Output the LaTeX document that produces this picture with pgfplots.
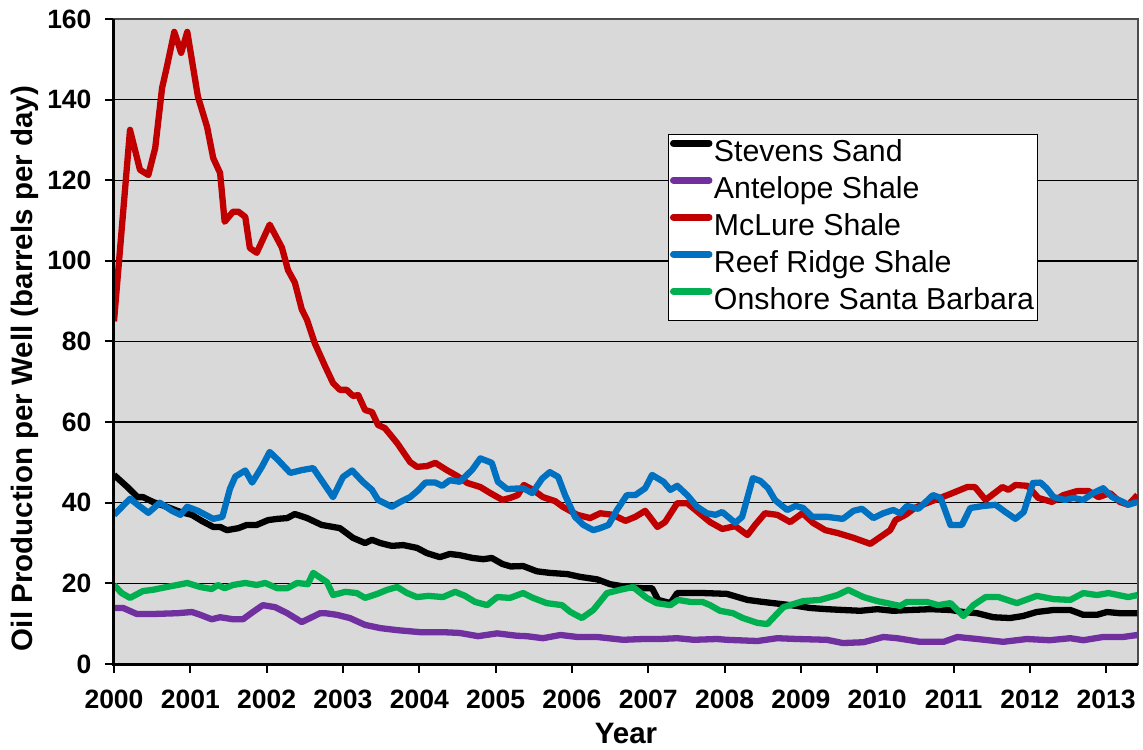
\documentclass[border=0pt]{standalone}
\usepackage{fontspec}
\setmainfont{Liberation Sans}
\usepackage{pgfplots}
\pgfplotsset{compat=1.18}
\definecolor{cPurple}{RGB}{112,48,160}
\definecolor{cRed}{RGB}{192,0,0}
\definecolor{cBlue}{RGB}{0,112,192}
\definecolor{cGreen}{RGB}{0,176,80}
\definecolor{bgc}{RGB}{217,217,217}
\begin{document}
\begin{tikzpicture}
\begin{axis}[
  width=1024pt, height=645pt, scale only axis,
  xmin=2000, xmax=2013.417, ymin=0, ymax=160,
  xtick={2000,2001,...,2013}, ytick={0,20,...,160},
  /pgf/number format/1000 sep={},
  /pgf/number format/assume math mode=true,
  ticklabel style={font=\fontsize{26.5}{30}\selectfont\bfseries},
  xticklabel shift=13pt, yticklabel shift=10pt,
  xtick pos=left, ytick pos=left,
  tick align=outside,
  major tick length=9pt,
  tick style={black, line width=2pt},
  ymajorgrids, grid style={black, line width=1.3pt},
  axis background/.style={fill=bgc},
  axis line style={draw=black!70, line width=1.2pt},
  xlabel={Year},
  ylabel={Oil Production per Well (barrels per day)},
  label style={font=\fontsize{29.5}{34}\selectfont\bfseries},
  xlabel style={at={(axis description cs:0.5,-0.1240)}, anchor=base},
  ylabel style={at={(axis description cs:-0.0791,0.458)}, anchor=base},
  legend style={at={(rel axis cs:0.541,0.822)}, anchor=north west, draw=black, line width=1pt, fill=white,
    font=\fontsize{30.3}{34}\selectfont, inner xsep=1.5pt, inner ysep=0.5pt, row sep=0pt,
    nodes={inner sep=1.5pt, text height=25pt, text depth=9pt},
    /tikz/every even column/.append style={column sep=0pt}},
  legend cell align=left,
  legend image code/.code={\draw[#1, line width=6.5pt, line cap=round] (0pt,10pt) -- (36pt,10pt);},
  every axis plot/.append style={line width=6.3pt, line join=round, no marks},
  after end axis/.code={\draw[line width=3pt, black] (rel axis cs:0,1) -- (rel axis cs:0,0) -- (rel axis cs:1,0);},
]
% Stevens Sand
\addplot[black] coordinates {
(2000.0,46.9)(2000.17,44)(2000.31,41.4)(2000.38,41.4)(2000.51,40.2)(2000.69,39)(2000.87,37.7)(2001.02,37)
(2001.15,35.5)(2001.30,34)(2001.39,34)(2001.48,33.2)(2001.63,33.7)(2001.74,34.5)(2001.87,34.5)(2002.02,35.7)
(2002.14,36)(2002.27,36.2)(2002.37,37.2)(2002.53,36.2)(2002.72,34.5)(2002.96,33.7)(2003.13,31.3)(2003.29,30)
(2003.38,30.8)(2003.49,30)(2003.64,29.3)(2003.79,29.5)(2003.97,28.8)(2004.10,27.5)(2004.27,26.5)(2004.40,27.3)
(2004.53,27)(2004.70,26.3)(2004.84,26)(2004.95,26.3)(2005.09,24.8)(2005.20,24.2)(2005.36,24.3)(2005.54,23)
(2005.71,22.6)(2005.94,22.3)(2006.11,21.6)(2006.33,21)(2006.50,19.8)(2006.72,19.1)(2006.93,18.8)(2007.05,18.8)
(2007.13,15.9)(2007.29,15.1)(2007.38,17.6)(2007.55,17.6)(2007.72,17.6)(2008.03,17.4)(2008.30,15.9)(2008.50,15.4)
(2008.73,14.9)(2008.95,14.4)(2009.12,13.9)(2009.34,13.6)(2009.55,13.4)(2009.78,13.2)(2010.00,13.6)(2010.21,13.2)
(2010.43,13.4)(2010.70,13.6)(2010.96,13.4)(2011.13,12.9)(2011.31,12.6)(2011.52,11.6)(2011.74,11.4)(2011.91,11.9)
(2012.09,12.9)(2012.31,13.4)(2012.53,13.4)(2012.70,12.2)(2012.88,12.2)(2013.01,12.9)(2013.18,12.6)(2013.41,12.6)
};
\addlegendentry{Stevens Sand}
% Antelope Shale
\addplot[cPurple] coordinates {
(2000.0,13.9)(2000.12,13.9)(2000.30,12.4)(2000.51,12.4)(2000.83,12.6)(2001.02,12.9)(2001.13,12.2)(2001.28,11.1)
(2001.39,11.6)(2001.56,11.1)(2001.69,11.1)(2001.82,12.9)(2001.95,14.6)(2002.11,14.1)(2002.27,12.6)(2002.46,10.4)
(2002.57,11.4)(2002.70,12.6)(2002.77,12.6)(2002.92,12.2)(2003.09,11.4)(2003.29,9.7)(2003.49,8.9)(2003.71,8.4)
(2004.01,7.9)(2004.31,7.9)(2004.53,7.7)(2004.77,6.9)(2005.02,7.6)(2005.28,7.0)(2005.41,6.9)(2005.62,6.4)
(2005.85,7.2)(2006.07,6.7)(2006.33,6.7)(2006.67,6.0)(2006.93,6.2)(2007.15,6.2)(2007.38,6.4)(2007.60,6.0)
(2007.90,6.2)(2008.03,6.0)(2008.43,5.7)(2008.69,6.4)(2008.95,6.2)(2009.34,6.0)(2009.55,5.2)(2009.82,5.4)
(2010.08,6.7)(2010.26,6.4)(2010.56,5.5)(2010.87,5.5)(2011.05,6.7)(2011.31,6.2)(2011.65,5.5)(2011.96,6.2)
(2012.26,5.9)(2012.53,6.4)(2012.70,5.9)(2012.96,6.7)(2013.22,6.7)(2013.41,7.2)
};
\addlegendentry{Antelope Shale}
% McLure Shale
\addplot[cRed] coordinates {
(2000.0,85)(2000.21,132.5)(2000.34,122.6)(2000.45,121.3)(2000.54,128)(2000.63,142.9)(2000.69,147.9)(2000.79,156.8)
(2000.88,151.6)(2000.96,156.8)(2001.10,140.7)(2001.22,133.2)(2001.30,125.5)(2001.39,121.8)(2001.45,109.7)(2001.56,112.2)
(2001.63,112.2)(2001.72,110.9)(2001.78,103.2)(2001.87,102)(2002.04,109)(2002.20,103.3)(2002.28,97.7)(2002.37,94.6)
(2002.46,88)(2002.53,85.3)(2002.63,79.6)(2002.77,73.7)(2002.87,69.7)(2002.96,68)(2003.05,68)(2003.13,66.5)
(2003.20,66.7)(2003.29,63)(2003.38,62.5)(2003.46,59.3)(2003.55,58.5)(2003.71,54.8)(2003.88,50.1)(2003.97,48.9)
(2004.10,49.1)(2004.21,49.9)(2004.36,48.1)(2004.50,46.6)(2004.63,44.9)(2004.80,43.9)(2004.93,42.4)(2005.09,40.7)
(2005.19,41.2)(2005.29,41.9)(2005.37,44.4)(2005.49,43.2)(2005.62,41.4)(2005.78,40.4)(2005.88,39)(2006.07,37)
(2006.24,36.2)(2006.37,37.4)(2006.54,37)(2006.70,35.5)(2006.83,36.5)(2006.96,38)(2007.12,34)(2007.22,35.2)
(2007.38,39.9)(2007.51,39.9)(2007.65,37.7)(2007.81,35.2)(2007.97,33.5)(2008.14,34.2)(2008.30,32)(2008.40,34.5)
(2008.53,37.4)(2008.69,37)(2008.86,35.2)(2009.02,37.4)(2009.16,35)(2009.32,33.2)(2009.48,32.5)(2009.69,31.3)
(2009.91,29.8)(2010.04,31.5)(2010.17,33.2)(2010.24,35.7)(2010.37,37)(2010.50,38.8)(2010.69,40.2)(2010.96,42.2)
(2011.18,43.9)(2011.28,43.9)(2011.42,40.7)(2011.64,43.9)(2011.72,43.2)(2011.81,44.4)(2011.97,44.2)(2012.11,41.2)
(2012.29,40.2)(2012.44,41.9)(2012.62,42.9)(2012.77,42.9)(2012.90,41.4)(2013.05,42.4)(2013.18,40.2)(2013.29,39.5)
(2013.41,41.9)
};
\addlegendentry{McLure Shale}
% Reef Ridge Shale
\addplot[cBlue] coordinates {
(2000.0,37)(2000.21,41)(2000.31,39.5)(2000.45,37.5)(2000.60,40)(2000.76,38)(2000.87,37)(2000.96,39)
(2001.10,38)(2001.30,36)(2001.42,36.5)(2001.52,43.5)(2001.59,46.5)(2001.72,48)(2001.81,45)(2001.94,49)
(2002.04,52.6)(2002.15,50.6)(2002.31,47.4)(2002.46,48.1)(2002.61,48.6)(2002.74,45)(2002.87,41.4)(2003.00,46.4)
(2003.12,48)(2003.26,45.2)(2003.38,43.2)(2003.46,40.7)(2003.64,39)(2003.75,40.2)(2003.88,41.4)(2003.98,43)
(2004.08,45)(2004.21,45)(2004.30,44.2)(2004.40,45.6)(2004.53,45.2)(2004.69,48.1)(2004.80,51)(2004.95,49.9)
(2005.03,45.2)(2005.15,43.4)(2005.36,43.6)(2005.48,42.4)(2005.61,46)(2005.71,47.6)(2005.82,46.4)(2005.91,41.9)
(2006.04,36.5)(2006.15,34.5)(2006.28,33.2)(2006.37,33.7)(2006.48,34.5)(2006.59,38.2)(2006.72,41.9)(2006.83,41.9)
(2006.96,43.6)(2007.05,46.9)(2007.20,45.2)(2007.29,43.2)(2007.38,44.2)(2007.51,41.9)(2007.64,39)(2007.77,37.4)
(2007.88,37)(2007.97,37.7)(2008.14,35)(2008.23,36.5)(2008.37,46.1)(2008.47,45.4)(2008.57,43.6)(2008.66,40.7)
(2008.82,38.2)(2008.93,39.2)(2009.03,38.7)(2009.15,36.5)(2009.34,36.5)(2009.55,36)(2009.69,38)(2009.80,38.5)
(2009.95,36.2)(2010.08,37.4)(2010.21,38.2)(2010.30,37.4)(2010.39,39.2)(2010.54,38.5)(2010.73,41.9)(2010.83,41.2)
(2010.96,34.5)(2011.11,34.5)(2011.22,38.7)(2011.39,39.2)(2011.55,39.5)(2011.68,37.7)(2011.81,36)(2011.92,37.7)
(2012.04,44.9)(2012.14,45)(2012.22,43.6)(2012.31,41.4)(2012.46,40.7)(2012.57,41.2)(2012.70,40.7)(2012.83,42.4)
(2012.96,43.6)(2013.08,41.4)(2013.22,40.2)(2013.29,39.5)(2013.41,40.2)
};
\addlegendentry{Reef Ridge Shale}
% Onshore Santa Barbara
\addplot[cGreen] coordinates {
(2000.0,19.6)(2000.10,17.6)(2000.21,16.4)(2000.38,18.1)(2000.51,18.4)(2000.69,19.1)(2000.83,19.6)(2000.96,20.1)
(2001.13,19.1)(2001.28,18.6)(2001.36,19.6)(2001.45,18.8)(2001.56,19.6)(2001.72,20.1)(2001.87,19.6)(2001.98,20.1)
(2002.14,18.8)(2002.27,18.8)(2002.40,20.1)(2002.54,19.8)(2002.61,22.6)(2002.79,20.3)(2002.87,17.1)(2003.03,17.9)
(2003.18,17.6)(2003.29,16.4)(2003.45,17.4)(2003.58,18.4)(2003.71,19.1)(2003.84,17.6)(2003.97,16.6)(2004.12,16.9)
(2004.31,16.6)(2004.47,17.9)(2004.60,16.9)(2004.73,15.4)(2004.89,14.6)(2005.02,16.6)(2005.19,16.4)(2005.36,17.6)
(2005.49,16.4)(2005.67,15.1)(2005.87,14.6)(2005.98,12.9)(2006.13,11.4)(2006.28,13.4)(2006.46,17.6)(2006.63,18.4)
(2006.80,19.1)(2006.98,16.4)(2007.11,15.1)(2007.29,14.6)(2007.39,15.9)(2007.55,15.4)(2007.71,15.4)(2007.81,14.6)
(2007.94,13.2)(2008.11,12.6)(2008.24,11.4)(2008.43,10.2)(2008.56,9.9)(2008.77,14.1)(2009.03,15.6)(2009.25,15.9)
(2009.48,17.1)(2009.62,18.4)(2009.82,16.6)(2010.00,15.6)(2010.13,15.1)(2010.30,14.4)(2010.39,15.4)(2010.65,15.4)
(2010.80,14.6)(2010.96,15.1)(2011.13,11.9)(2011.26,14.6)(2011.42,16.6)(2011.59,16.6)(2011.83,15.1)(2012.09,16.9)
(2012.31,16.1)(2012.53,15.9)(2012.70,17.6)(2012.88,17.1)(2013.03,17.6)(2013.16,17.1)(2013.29,16.6)(2013.41,17.1)
};
\addlegendentry{Onshore Santa Barbara}
\end{axis}
\pgfresetboundingbox
\path[use as bounding box] ([shift={(-114pt,-85pt)}]current axis.south west) rectangle ([shift={(5pt,19pt)}]current axis.north east);
\end{tikzpicture}
\end{document}
